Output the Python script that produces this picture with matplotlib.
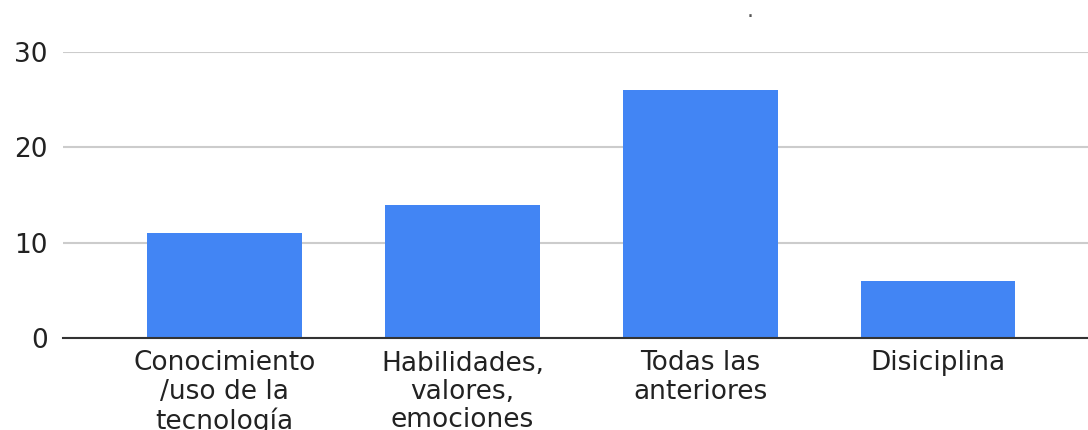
import matplotlib
matplotlib.use("Agg")
import matplotlib.pyplot as plt

# Data
categories = ["Conocimiento\n/uso de la\ntecnología",
              "Habilidades,\nvalores,\nemociones",
              "Todas las\nanteriores",
              "Disiciplina"]
values = [11, 14, 26, 6]
yticks = [0, 10, 20, 30]

plt.rcParams['font.family'] = ['DejaVu Sans']

fig = plt.figure(figsize=(10.88, 4.30), dpi=100)
ax = fig.add_axes([63/1088, 92/430, 1 - 63/1088, 286/430])

x = range(len(categories))
ax.bar(x, values, width=0.65, color="#4285f4", zorder=3)

ax.set_ylim(0, 30)
ax.set_xlim(-0.68, 3.63)
ax.set_yticks(yticks)
ax.set_xticks(list(x))
ax.set_xticklabels(categories, fontsize=19, color="#222222", linespacing=1.12, va="top")
ax.tick_params(axis="y", labelsize=19, labelcolor="#222222", length=0, pad=11)
ax.tick_params(axis="x", length=0, pad=9)

ax.grid(axis="y", color="#cccccc", linewidth=1.5, zorder=0)
for s in ["top", "right", "left"]:
    ax.spines[s].set_visible(False)
ax.spines["bottom"].set_color("#333333")
ax.spines["bottom"].set_linewidth(1.5)
ax.spines["bottom"].set_zorder(4)

# little grey speck near the top of the original image
fig.text(750/1088, 1 - 17/430, "·", fontsize=16, color="#555555", ha="center", va="center")

fig.savefig("out.png", dpi=100)
